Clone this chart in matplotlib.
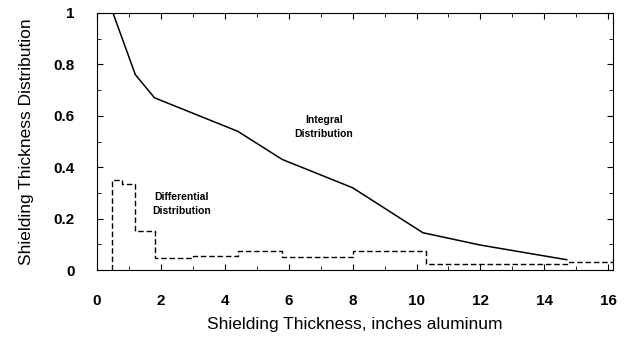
import matplotlib
matplotlib.use("Agg")
import matplotlib.pyplot as plt

plt.rcParams['font.family'] = ['Liberation Sans', 'DejaVu Sans']

# Integral distribution (solid)
integral_x = [0.5, 1.2, 1.8, 3.0, 4.4, 5.8, 8.0, 10.2, 12.0, 14.7]
integral_y = [1.0, 0.76, 0.67, 0.61, 0.54, 0.43, 0.32, 0.145, 0.097, 0.04]

# Differential distribution (dashed step): bin edges and values
diff_edges = [0.47, 0.78, 1.2, 1.8, 3.0, 4.4, 5.8, 8.0, 10.3, 14.7, 16.2]
diff_vals = [0.35, 0.335, 0.15, 0.048, 0.054, 0.072, 0.052, 0.072, 0.022, 0.03]

xticks = [0, 2, 4, 6, 8, 10, 12, 14, 16]
yticks = [0, 0.2, 0.4, 0.6, 0.8, 1]
ytick_labels = ['0', '0.2', '0.4', '0.6', '0.8', '1']

fig = plt.figure(figsize=(6.24, 3.4), dpi=100)
ax = fig.add_axes([97/624, 1-270/340, (613-97)/624, (270-13)/340])

ax.plot(integral_x, integral_y, color='black', lw=1.1)

sx = [diff_edges[0]]
sy = [0]
for i, v in enumerate(diff_vals):
    sx += [diff_edges[i], diff_edges[i+1]]
    sy += [v, v]
ax.plot(sx, sy, color='black', lw=1.0, ls=(0, (4, 2)))

ax.text(7.1, 0.555, 'Integral\nDistribution', fontsize=7.5, fontweight='bold',
        ha='center', va='center', linespacing=1.5)
ax.text(2.65, 0.255, 'Differential\nDistribution', fontsize=7.5, fontweight='bold',
        ha='center', va='center', linespacing=1.5)

ax.set_xlim(0, 16.15)
ax.set_ylim(0, 1)
ax.set_xticks(xticks)
ax.set_xticklabels([str(t) for t in xticks])
ax.set_yticks(yticks)
ax.set_yticklabels(ytick_labels)
ax.set_xticks(range(0, 17), minor=True)
ax.set_yticks([i/10 for i in range(11)], minor=True)
ax.tick_params(which='both', direction='in', top=True, right=True)
ax.tick_params(which='major', length=4, labelsize=11)
ax.tick_params(axis='x', which='major', pad=17)
ax.tick_params(axis='y', which='major', pad=16)
ax.tick_params(which='minor', length=3)
for lab in ax.get_xticklabels() + ax.get_yticklabels():
    lab.set_fontweight('bold')

ax.set_xlabel('Shielding Thickness, inches aluminum', fontsize=12.5, labelpad=7)
ax.set_ylabel('Shielding Thickness Distribution', fontsize=12.5, labelpad=14)

fig.savefig('out.png', dpi=100)
